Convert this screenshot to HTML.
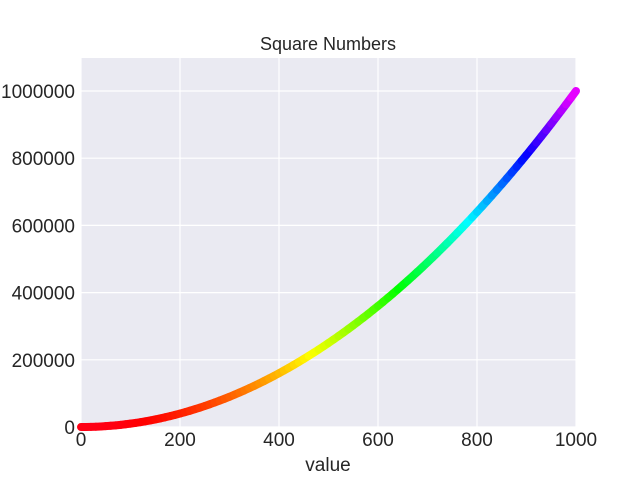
<!DOCTYPE html>
<html><head><meta charset="utf-8"><style>
body{margin:0;background:#fff;font-family:"Liberation Sans",Arial,sans-serif}
svg text{font-family:"Liberation Sans",Arial,sans-serif;fill:#262626}
</style></head><body>
<svg id="chart" width="640" height="480">
<rect x="81" y="58" width="495" height="369" fill="#EAEAF2"/>
<g id="grid"></g><g id="marks"></g><g id="ticks"></g>
<text x="328" y="50" text-anchor="middle" font-size="18">Square Numbers</text>
<text x="328" y="471" text-anchor="middle" font-size="19">value</text>
</svg>
<script>
const xValues=[0,10,20,30,40,50,60,70,80,90,100,110,120,130,140,150,160,170,180,190,200,210,220,230,240,250,260,270,280,290,300,310,320,330,340,350,360,370,380,390,400,410,420,430,440,450,460,470,480,490,500,510,520,530,540,550,560,570,580,590,600,610,620,630,640,650,660,670,680,690,700,710,720,730,740,750,760,770,780,790,800,810,820,830,840,850,860,870,880,890,900,910,920,930,940,950,960,970,980,990,1000];
const yValues=[0,100,400,900,1600,2500,3600,4900,6400,8100,10000,12100,14400,16900,19600,22500,25600,28900,32400,36100,40000,44100,48400,52900,57600,62500,67600,72900,78400,84100,90000,96100,102400,108900,115600,122500,129600,136900,144400,152100,160000,168100,176400,184900,193600,202500,211600,220900,230400,240100,250000,260100,270400,280900,291600,302500,313600,324900,336400,348100,360000,372100,384400,396900,409600,422500,435600,448900,462400,476100,490000,504100,518400,532900,547600,562500,577600,592900,608400,624100,640000,656100,672400,688900,705600,722500,739600,756900,774400,792100,810000,828100,846400,864900,883600,902500,921600,940900,960400,980100,1000000];
const xTicks=[0,200,400,600,800,1000];
const yTicks=[0,200000,400000,600000,800000,1000000];
const NS="http://www.w3.org/2000/svg";
const X=v=>81+v/1000*495;
const Y=v=>427-v/1000000*336;
const grid=document.getElementById('grid'),ticks=document.getElementById('ticks'),marks=document.getElementById('marks');
function mk(t,a,p){const e=document.createElementNS(NS,t);for(const k in a)e.setAttribute(k,a[k]);p.appendChild(e);return e;}
xTicks.forEach(t=>{
 const l=mk('line',{x1:X(t),x2:X(t),y1:58,y2:427,stroke:'#fff','stroke-width':1.2},grid);
 
 
 const s=mk('text',{x:X(t),y:446,'text-anchor':'middle','font-size':19},ticks);s.textContent=t;
 
 
});
yTicks.forEach(t=>{
 const l=mk('line',{x1:81,x2:576,y1:Y(t),y2:Y(t),stroke:'#fff','stroke-width':1.2},grid);
 
 
 const s=mk('text',{x:75,y:Y(t)+7,'text-anchor':'end','font-size':19},ticks);s.textContent=t;
 
 
});
for(let i=0;i<xValues.length-1;i++){
 const t=yValues[i]/1000000;
 const l=mk('line',{x1:X(xValues[i]),y1:Y(yValues[i]),x2:X(xValues[i+1]),y2:Y(yValues[i+1]),stroke:`hsl(${(-5+305*t).toFixed(1)},100%,50%)`,'stroke-width':8,'stroke-linecap':'round'},marks);
 
 
}
</script>
</body></html>
